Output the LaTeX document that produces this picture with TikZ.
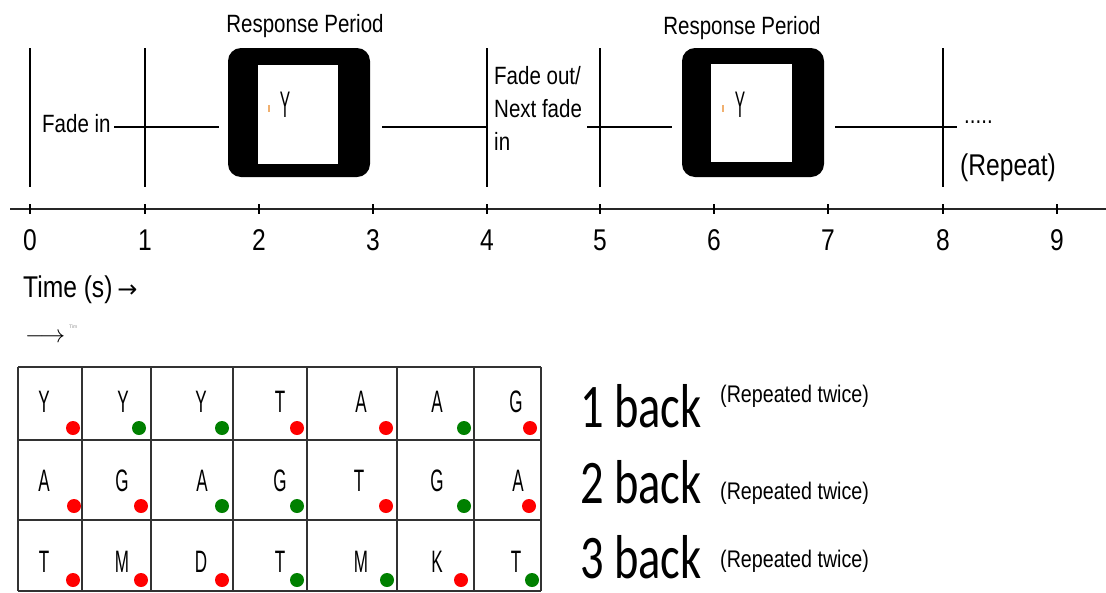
\documentclass[tikz,border=0pt]{standalone}
\usepackage{fontspec}
\setmainfont{Liberation Sans}
\newfontfamily\narrowfont[FakeStretch=0.82]{Liberation Sans}
\newfontfamily\gridfont[FakeStretch=0.55]{Liberation Sans}
\newfontfamily\stimfont[FakeStretch=0.42]{Liberation Sans}
\newfontfamily\backfont[FakeStretch=0.75]{Carlito}
\newfontfamily\symfont{DejaVu Sans}
\definecolor{dotred}{RGB}{255,0,0}
\definecolor{dotgreen}{RGB}{0,128,0}
\definecolor{gridgray}{RGB}{50,50,50}
\definecolor{tickorange}{RGB}{240,176,112}
\definecolor{tinygray}{RGB}{150,150,150}
\begin{document}
\begin{tikzpicture}[x=1pt,y=-1pt,
  lbl/.style={inner sep=0pt, font=\narrowfont\fontsize{25}{33}\selectfont},
  biglbl/.style={inner sep=0pt, font=\narrowfont\fontsize{30}{36}\selectfont},
  axnum/.style={inner sep=0pt, anchor=base, font=\narrowfont\fontsize{30}{36}\selectfont},
  tline/.style={line width=1.3pt, black},
  axisline/.style={line width=1.8pt, black!85},
  frame/.style={draw=none, fill=black, rounded corners=13pt, inner sep=0pt},
  screen/.style={draw=none, fill=white, inner sep=0pt},
  stimletter/.style={inner sep=0pt, font=\stimfont\fontsize{37}{42}\selectfont},
  orangetick/.style={fill=tickorange, draw=none, inner sep=0pt, minimum width=2pt, minimum height=7pt},
  gridline/.style={line width=1.3pt, gridgray},
  cellletter/.style={inner sep=0pt, font=\gridfont\fontsize{31}{34}\selectfont},
  fb/.style={circle, inner sep=0pt, minimum size=14pt, draw=none},
  backlbl/.style={inner sep=0pt, anchor=base west, font=\backfont\fontsize{62}{70}\selectfont},
  replbl/.style={inner sep=0pt, anchor=base west, font=\narrowfont\fontsize{24}{28}\selectfont}
]
\useasboundingbox (0,0) rectangle (1106,592);
\fill[white] (0,0) rectangle (1106,592);

% ---------- top timeline ----------
\foreach \x in {30,145,487,600,943} {
  \draw[tline] (\x,48) -- (\x,187);
}
\draw[tline] (114,127) -- (219,127);
\draw[tline] (382,127) -- (488,127);
\draw[tline] (587,127) -- (672,127);
\draw[tline] (835,127) -- (957,127);

% stimulus frames
\node[frame, minimum width=142pt, minimum height=129pt] (frameA) at (299,112.5) {};
\node[screen, minimum width=80pt, minimum height=99pt] (screenA) at (298,114.5) {};
\node[stimletter] (stimA) at (285,105) {Y};
\node[orangetick] (dotA) at (269,108) {};

\node[frame, minimum width=142pt, minimum height=129pt] (frameB) at (753,112.5) {};
\node[screen, minimum width=81pt, minimum height=98pt] (screenB) at (751.5,113) {};
\node[stimletter] (stimB) at (740,105) {Y};
\node[orangetick] (dotB) at (723,108) {};

% labels
\node[lbl, anchor=base] (resp1) at (305,32) {Response Period};
\node[lbl, anchor=base] (resp2) at (742,34) {Response Period};
\node[lbl, anchor=base west] (fadein) at (42,132) {Fade in};
\node[lbl, anchor=north west, align=left] (fadeout) at (494,66) {Fade out/\\Next fade\\in};
\node[lbl, anchor=base west] (dots) at (964,123) {.....};
\node[biglbl, anchor=base west] (repeat) at (960,175) {(Repeat)};

% ---------- axis ----------
\draw[axisline] (10,209) -- (1106,209);
\foreach \x [count=\i from 0] in {30,145,259,373,487,600,714,828,943,1057} {
  \draw[line width=1.2pt] (\x,204) -- (\x,214);
  \node[axnum] (t\i) at (\x,250) {\i};
}
\node[biglbl, anchor=base west] (timelbl) at (23,297) {Time (s)\,{\symfont\fontsize{24}{28}\selectfont →}};
\node[inner sep=0pt, anchor=west, font=\fontsize{23}{26}\selectfont] (arrow2) at (25,338) {$\longrightarrow$};
\node[inner sep=0pt, anchor=west, text=tinygray, font=\fontsize{5}{6}\selectfont] (tiny) at (69,327) {Tim};

% ---------- grid ----------
\foreach \x in {18,82,151,233,307,397,474,541} {
  \draw[gridline] (\x,367) -- (\x,591);
}
\foreach \y in {367,440,520,591} {
  \draw[gridline] (18,\y) -- (541,\y);
}

% row 1
\foreach \l/\lx/\dx/\c [count=\i] in {Y/44/73/dotred, Y/123/139/dotgreen, Y/201/222/dotgreen, T/280/297/dotred, A/361/386/dotred, A/437/464/dotgreen, G/516/530/dotred} {
  \node[cellletter] (ra\i) at (\lx,402) {\l};
  \node[fb, fill=\c] (fa\i) at (\dx,428) {};
}
% row 2
\foreach \l/\lx/\dx/\c [count=\i] in {A/44/74/dotred, G/122/141/dotred, A/202/222/dotgreen, G/280/297/dotgreen, T/359/386/dotred, G/437/464/dotgreen, A/518/529/dotred} {
  \node[cellletter] (rb\i) at (\lx,481) {\l};
  \node[fb, fill=\c] (fb\i) at (\dx,506) {};
}
% row 3
\foreach \l/\lx/\dx/\c [count=\i] in {T/44/73/dotred, M/122/141/dotred, D/201/222/dotred, T/280/297/dotgreen, M/361/387/dotgreen, K/437/461/dotred, T/516/532/dotgreen} {
  \node[cellletter] (rc\i) at (\lx,562) {\l};
  \node[fb, fill=\c] (fc\i) at (\dx,580) {};
}

% ---------- right labels ----------
\node[backlbl] (back1) at (580,427) {1 back};
\node[replbl] (rep1) at (720,402) {(Repeated twice)};
\node[backlbl] (back2) at (580,503) {2 back};
\node[replbl] (rep2) at (720,499) {(Repeated twice)};
\node[backlbl] (back3) at (580,578) {3 back};
\node[replbl] (rep3) at (720,567) {(Repeated twice)};
\end{tikzpicture}
\end{document}
